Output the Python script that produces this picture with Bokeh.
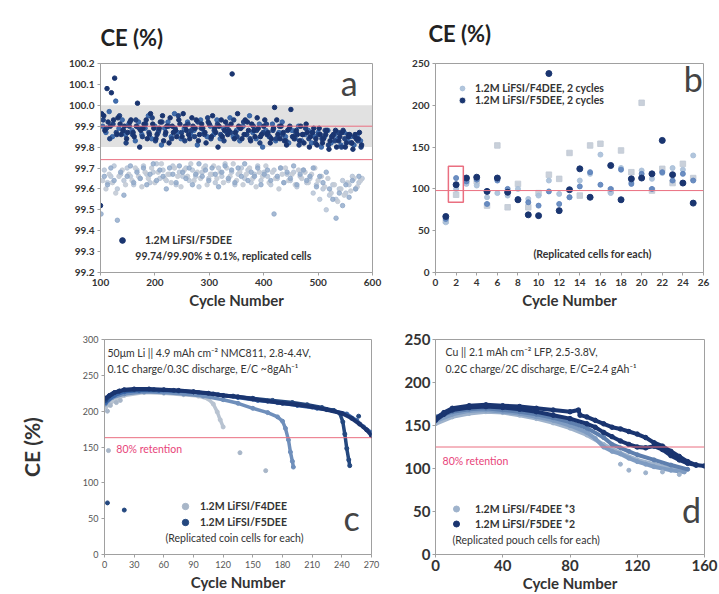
from bokeh.plotting import figure
from bokeh.layouts import column, row
from bokeh.models import (Range1d, Span, BoxAnnotation, Label, Legend, LegendItem,
                          FixedTicker, PrintfTickFormatter)
from bokeh.embed import file_html
from bokeh.resources import INLINE

FONT = "Lato"
NAN = float("nan")
DARK = "#1a3570"
MID = "#2f5ea3"
STEEL = "#8fa8c8"
LIGHT = "#c3cbd6"
RED = "#ea6f80"
RED_TXT = "#e8457a"
TXT = "#333333"

# ---------------- panel a : CE vs cycle (100-600) ----------------
a_xticks = [100, 200, 300, 400, 500, 600]
a_yticks = [99.2, 99.3, 99.4, 99.5, 99.6, 99.7, 99.8, 99.9, 100.0, 100.1, 100.2]
a_mean_lines = [99.74, 99.90]
a_band = [99.80, 100.00]

ce_a_dark1 = [99.52, 99.95, 100.08, 99.90, 99.93, 99.86, 99.91, 99.88, 99.84, 99.92, 99.87, 99.90, 99.80,
              99.89, 99.93, 99.86, 99.91, 99.84, 99.89, 99.95, 99.87, 99.82, 99.90, 99.88, 99.93, 99.85,
              99.90, 99.86, 99.94, 99.89, 99.83, 99.91, 99.87, 99.92, 99.85, 99.89, 99.80, 99.93, 99.88,
              99.86, 99.91, 99.84, 99.96, 99.89, 99.86, 99.92, 99.83, 99.88, 99.94, 99.85, 99.90, 99.86,
              99.82, 99.89, 99.93, 99.84, 99.87, 99.81, 99.90, 99.85, 99.88, 99.83, 99.86, 99.91, 99.80,
              99.87, 99.84, 99.89, 99.82, 99.86, 99.79, 99.85, 99.88, 99.83, 99.87, 99.80, 99.85, 99.82,
              99.86, 99.84, 99.81]
ce_a_dark2 = [99.96, 99.88, 99.92, 100.06, 100.13, 99.94, 99.86, 99.90, 99.87, 99.93, 99.85, 100.01, 99.88,
              99.91, 99.84, 99.96, 99.89, 99.86, 99.92, 99.83, 99.90, 99.94, 99.87, 99.85, 99.91, 99.96,
              99.88, 99.84, 99.90, 99.93, 99.86, 99.89, 99.82, 99.91, 99.95, 99.87, 99.90, 99.85, 99.92,
              99.88, 100.15, 99.87, 99.90, 99.84, 99.93, 99.88, 99.91, 99.85, 99.89, 99.86, 99.93, 99.87,
              99.84, 99.99, 99.86, 99.90, 99.83, 99.88, 99.98, 99.84, 99.86, 99.90, 99.82, 99.87, 99.85,
              99.89, 99.81, 99.86, 99.84, 99.88, 99.83, 99.86, 99.80, 99.85, 99.88, 99.82, 99.86, 99.79,
              99.84, 99.87]
ce_a_dark3 = [99.90, 99.87, 99.97, 99.85, 100.02, 99.89, 99.93, 99.86, 99.91, 99.88, 99.83, 99.92, 99.86,
              99.89, 99.95, 99.84, 99.90, 99.87, 99.81, 99.89, 99.92, 99.85, 99.96, 99.87, 99.84, 99.89,
              99.92, 99.86, 99.88, 99.81, 99.93, 99.87, 99.85, 99.90, 99.86, 99.93, 99.84, 99.89, 99.87,
              99.94, 99.85, 99.88, 99.83, 99.90, 99.86, 99.95, 99.87, 99.84, 99.91, 99.80, 99.88, 99.85,
              99.91, 99.83, 99.87, 99.92, 99.85, 99.82, 99.88, 99.84, 99.90, 99.83, 99.86, 99.88, 99.82,
              99.85, 99.87, 99.80, 99.85, 99.88, 99.82, 99.86, 99.84, 99.81, 99.87, 99.83, 99.85, 99.81,
              99.86, 99.83]
ce_a_dark4 = [99.93, 99.89, 99.84, 99.91, 99.87, 99.95, 99.88, 99.82, 99.90, 99.86, 99.93, 99.89, 99.85,
              99.91, 99.87, 99.94, 99.83, 99.88, 99.92, 99.86, 99.90, 99.84, 99.89, 99.95, 99.87, 99.83,
              99.91, 99.88, 99.85, 99.92, 99.89, 99.86, 99.94, 99.84, 99.88, 99.91, 99.86, 99.83, 99.90,
              99.87, 99.93, 99.85, 99.89, 99.92, 99.86, 99.84, 99.90, 99.88, 99.82, 99.87, 99.91, 99.85,
              99.88, 99.84, 99.90, 99.86, 99.83, 99.89, 99.85, 99.87, 99.81, 99.86, 99.89, 99.84, 99.87,
              99.82, 99.86, 99.84, 99.88, 99.81, 99.85, 99.83, 99.87, 99.80, 99.84, 99.86, 99.82, 99.85,
              99.83, 99.80]
ce_a_light1 = [99.48, 99.66, 99.62, 99.70, 99.64, 99.45, 99.68, 99.57, 99.66, 99.71, 99.63, 99.68, 99.65,
               99.70, 99.62, 99.67, 99.72, 99.64, 99.69, 99.66, 99.60, 99.70, 99.67, 99.63, 99.71, 99.68,
               99.65, 99.70, 99.62, 99.67, 99.72, 99.66, 99.69, 99.64, 99.70, 99.67, 99.61, 99.68, 99.71,
               99.65, 99.69, 99.63, 99.70, 99.66, 99.72, 99.64, 99.68, 99.66, 99.70, 99.62, 99.67, 99.69,
               99.64, 99.48, 99.66, 99.70, 99.63, 99.68, 99.65, 99.71, 99.62, 99.67, 99.69, 99.64, 99.66,
               99.70, 99.61, 99.66, 99.63, 99.68, 99.60, 99.55, 99.46, 99.58, 99.52, 99.62, 99.56, 99.64,
               99.60, 99.66]
ce_a_light2 = [99.64, 99.60, 99.67, 99.63, 99.58, 99.66, 99.69, 99.62, 99.67, 99.64, 99.70, 99.66, 99.61,
               99.68, 99.65, 99.70, 99.63, 99.68, 99.72, 99.65, 99.67, 99.63, 99.70, 99.66, 99.61, 99.69,
               99.66, 99.72, 99.64, 99.68, 99.65, 99.70, 99.62, 99.67, 99.71, 99.65, 99.68, 99.63, 99.70,
               99.66, 99.72, 99.64, 99.68, 99.62, 99.67, 99.70, 99.65, 99.61, 99.68, 99.66, 99.71, 99.63,
               99.68, 99.65, 99.60, 99.67, 99.70, 99.64, 99.67, 99.62, 99.69, 99.65, 99.68, 99.63, 99.67,
               99.70, 99.64, 99.66, 99.61, 99.65, 99.58, 99.62, 99.54, 99.60, 99.57, 99.63, 99.59, 99.65,
               99.61, 99.64]
ce_a_light3 = [99.69, 99.63, 99.66, 99.71, 99.60, 99.67, 99.64, 99.70, 99.66, 99.62, 99.69, 99.65, 99.71,
               99.67, 99.63, 99.68, 99.72, 99.65, 99.69, 99.64, 99.67, 99.71, 99.62, 99.68, 99.66, 99.70,
               99.64, 99.69, 99.66, 99.61, 99.68, 99.71, 99.65, 99.67, 99.63, 99.70, 99.66, 99.72, 99.64,
               99.68, 99.62, 99.67, 99.70, 99.65, 99.69, 99.63, 99.67, 99.71, 99.64, 99.68, 99.66, 99.62,
               99.69, 99.65, 99.70, 99.63, 99.67, 99.64, 99.68, 99.61, 99.66, 99.69, 99.63, 99.65, 99.58,
               99.62, 99.55, 99.60, 99.50, 99.57, 99.62, 99.55, 99.60, 99.64, 99.58, 99.62, 99.66, 99.60,
               99.63, 99.65]
cyc_a_dark1 = list(range(100, 100 + 6 * len(ce_a_dark1), 6))
cyc_a_dark2 = list(range(102, 102 + 6 * len(ce_a_dark2), 6))
cyc_a_dark3 = list(range(104, 104 + 6 * len(ce_a_dark3), 6))
cyc_a_dark4 = list(range(105, 105 + 6 * len(ce_a_dark4), 6))
cyc_a_light1 = list(range(101, 101 + 6 * len(ce_a_light1), 6))
cyc_a_light2 = list(range(104, 104 + 6 * len(ce_a_light2), 6))
cyc_a_light3 = list(range(107, 107 + 6 * len(ce_a_light3), 6))

# ---------------- panel b : first 25 cycles ----------------
b_xticks = list(range(0, 27, 2))
b_yticks = [0, 50, 100, 150, 200, 250]
b_ref_line = 98
b_box = [1.25, 2.7, 84, 127]  # left, right, bottom, top of highlighted cycle
cyc_b = list(range(1, 26))
ce_b_f5_dark = [67, 105, 113, 114, 97, 113, 96, 87, 69, 68, 238, 74, 99, 124, 90, NAN, 128, 87, 112, 113,
                118, 158, 117, 107, 83]
ce_b_f5_mid = [64, 113, 109, 111, 82, 110, 100, 88, 84, 80, 97, 82, 90, 103, 120, 105, 100, 123, 106, 118,
               100, 120, 110, 118, 110]
ce_b_f4_gray = [62, 93, 110, 109, 80, 152, 78, 106, 78, 95, 117, 112, 143, 92, 152, 154, 98, 146, 120, 203,
                98, 124, 107, 130, 113]
ce_b_f4_light = [60, 100, 106, 104, 90, 95, 92, 100, 88, 92, 110, 94, 90, 110, 118, 141, 95, 125, 108, 122,
                 112, 119, 125, 123, 140]

# ---------------- panel c : NMC811 coin cells ----------------
c_xticks = list(range(0, 271, 30))
c_yticks = [0, 50, 100, 150, 200, 250, 300]
c_ret_line = 163
c_f5_1_cyc = [1, 5, 10, 15, 20, 30, 45, 60, 75, 90, 105, 120, 135, 150, 165, 180, 195, 210, 225, 240, 250,
              258, 265, 270]
c_f5_1_ce = [218, 222, 226, 228, 230, 231, 231, 230, 229, 227, 225, 222, 220, 217, 214, 211, 209, 206, 202,
             197, 190, 182, 174, 166]
c_f5_2_cyc = [1, 8, 15, 30, 50, 70, 90, 110, 130, 150, 170, 190, 205, 220, 232, 238, 241, 243, 245, 247, 248]
c_f5_2_ce = [215, 224, 228, 230, 230, 229, 227, 224, 221, 218, 215, 212, 209, 205, 201, 197, 185, 168, 148,
             132, 124]
c_f5_3_cyc = [1, 10, 20, 35, 55, 75, 95, 115, 135, 155, 175, 195, 215, 230, 245, 255, 262, 270]
c_f5_3_ce = [212, 222, 227, 229, 229, 228, 226, 223, 219, 215, 212, 208, 204, 201, 196, 187, 178, 170]
c_f4_1_cyc = [1, 8, 20, 40, 60, 80, 100, 120, 135, 150, 165, 175, 180, 183, 186, 188, 190, 191]
c_f4_1_ce = [210, 219, 224, 227, 226, 224, 221, 216, 211, 204, 198, 192, 186, 176, 160, 143, 130, 122]
c_f4_2_cyc = [1, 10, 20, 40, 60, 80, 95, 105, 110, 114, 117, 120]
c_f4_2_ce = [205, 215, 222, 226, 225, 223, 221, 217, 210, 199, 188, 178]
c_f4_pts_cyc = [3, 4, 6, 12, 16, 137, 163]
c_f4_pts_ce = [200, 145, 208, 212, 215, 142, 117]
c_f5_pts_cyc = [3, 20, 257]
c_f5_pts_ce = [72, 62, 193]

# ---------------- panel d : LFP pouch cells ----------------
d_xticks = [0, 40, 80, 120, 160]
d_yticks = [0, 50, 100, 150, 200, 250]
d_ret_line = 125
d_f5_1_cyc = [0, 5, 10, 20, 30, 40, 50, 60, 70, 80, 85, 86, 90, 95, 100, 105, 110, 115, 120, 125, 130, 135,
              140, 145, 150, 155, 160]
d_f5_1_ce = [158, 165, 170, 173, 174, 173, 172, 170, 168, 166, 168, 162, 160, 156, 152, 148, 146, 143, 140,
             136, 130, 126, 120, 114, 108, 104, 103]
d_f5_2_cyc = [0, 5, 10, 20, 30, 40, 50, 60, 70, 80, 90, 95, 100, 105, 110, 115, 120, 125, 130, 135, 140, 145,
              150, 155]
d_f5_2_ce = [156, 163, 168, 171, 172, 171, 169, 166, 162, 158, 152, 148, 142, 137, 132, 128, 125, 124, 126,
             122, 115, 110, 106, 104]
d_f4_1_cyc = [0, 10, 20, 30, 40, 50, 60, 70, 80, 90, 95, 100, 105, 110, 115, 120, 125, 130, 140, 148]
d_f4_1_ce = [155, 163, 167, 168, 166, 164, 160, 156, 150, 142, 135, 125, 120, 117, 112, 108, 105, 102, 98, 96]
d_f4_2_cyc = [0, 10, 20, 30, 40, 50, 60, 70, 80, 90, 100, 105, 110, 115, 120, 130, 140, 150]
d_f4_2_ce = [160, 166, 169, 170, 168, 166, 163, 159, 154, 147, 136, 128, 124, 120, 116, 110, 104, 99]
d_f4_3_cyc = [0, 10, 20, 30, 40, 50, 60, 70, 80, 90, 100, 110, 120, 130, 140, 147]
d_f4_3_ce = [152, 160, 164, 166, 165, 162, 158, 153, 147, 139, 128, 118, 110, 105, 100, 97]
d_f4_pts_cyc = [110, 115, 125, 135, 145]
d_f4_pts_ce = [105, 98, 95, 96, 93]


def make_fig(w, h, xr, yr, bl, br, bt, bb):
    p = figure(width=w, height=h, x_range=Range1d(*xr), y_range=Range1d(*yr),
               output_backend="svg", toolbar_location=None,
               min_border_left=bl, min_border_right=br, min_border_top=bt, min_border_bottom=bb)
    p.xgrid.visible = False
    p.ygrid.visible = False
    p.outline_line_color = "#a0a0a0"
    p.outline_line_width = 1
    p.background_fill_color = "white"
    p.border_fill_color = "white"
    for ax in (p.xaxis[0], p.yaxis[0]):
        ax.axis_line_color = "#a0a0a0"
        ax.major_tick_line_color = "#a0a0a0"
        ax.minor_tick_line_color = None
        ax.major_tick_in = 0
        ax.major_tick_out = 3
        ax.major_label_standoff = 3
        ax.major_label_text_font = FONT
        ax.major_label_text_color = TXT
        ax.major_label_text_font_style = "bold"
        ax.major_label_text_font_size = "10px"
        ax.axis_label_text_font = FONT
        ax.axis_label_text_font_style = "bold"
        ax.axis_label_text_color = TXT
        ax.axis_label_text_font_size = "15px"
        ax.axis_label_standoff = 2
    p.xaxis.axis_label = "Cycle Number"
    return p


def title(p, offset, standoff):
    p.title.text = "CE (%)"
    p.title.text_font = FONT
    p.title.text_font_size = "22px"
    p.title.text_font_style = "bold"
    p.title.text_color = "#222222"
    p.title.align = "left"
    p.title.offset = offset
    p.title.standoff = standoff


def txt(p, x, y, s, size="10.5px", color=TXT, style="normal", align="left", font=FONT):
    p.add_layout(Label(x=x, y=y, text=s, text_font=font, text_font_size=size, text_color=color,
                       text_font_style=style, text_align=align, text_baseline="middle"))


def legend(p, items, loc, glyph_w, standoff, size="10.5px", row_h=14):
    lg = Legend(items=[LegendItem(label=t, renderers=r) for t, r in items], location=loc,
                glyph_width=glyph_w, glyph_height=row_h, label_height=row_h, label_standoff=standoff,
                spacing=0, padding=0, margin=0, border_line_color=None, background_fill_alpha=0,
                label_text_font=FONT, label_text_font_size=size, label_text_color=TXT,
                label_text_font_style="bold")
    p.add_layout(lg)


# ===== panel a =====
pa = make_fig(390, 313, (100, 600), (99.2, 100.2), 100, 18, 55, 40)
title(pa, 0, 25)
pa.xaxis.ticker = FixedTicker(ticks=a_xticks)
pa.yaxis.ticker = FixedTicker(ticks=a_yticks)
pa.yaxis.formatter = PrintfTickFormatter(format="%.1f")
pa.add_layout(BoxAnnotation(bottom=a_band[0], top=a_band[1], fill_color="#d4d4d4", fill_alpha=0.7,
                            line_color=None, level="underlay"))
ra_l3 = pa.scatter(cyc_a_light3, ce_a_light3, size=4.5, color="#b4c2d4", alpha=0.8)
ra_l2 = pa.scatter(cyc_a_light2, ce_a_light2, size=4.5, color=LIGHT, alpha=0.9)
ra_l1 = pa.scatter(cyc_a_light1, ce_a_light1, size=4.5, color=STEEL, alpha=0.8)
ra_d3 = pa.scatter(cyc_a_dark3, ce_a_dark3, size=4.5, color=MID, alpha=0.9)
ra_d4 = pa.scatter(cyc_a_dark4, ce_a_dark4, size=4.5, color="#22427f")
ra_d1 = pa.scatter(cyc_a_dark1, ce_a_dark1, size=4.5, color=DARK)
ra_d2 = pa.scatter(cyc_a_dark2, ce_a_dark2, size=4.5, color=DARK)
for v in a_mean_lines:
    pa.add_layout(Span(location=v, dimension="width", line_color=RED, line_width=1))
legend(pa, [("1.2M LiFSI/F5DEE", [ra_l2, ra_d1])], (12, 25), 20, 13)
txt(pa, 164, 99.278, "99.74/99.90%  \u00b1 0.1%, replicated cells", style="bold")
txt(pa, 557, 100.11, "a", size="34px", color="#444444", align="center")

# ===== panel b =====
pb = make_fig(329, 313, (0, 26), (0, 250), 45, 16, 63, 41)
title(pb, -7, 33)
pb.xaxis.ticker = FixedTicker(ticks=b_xticks)
pb.yaxis.ticker = FixedTicker(ticks=b_yticks)
pb.add_layout(Span(location=b_ref_line, dimension="width", line_color=RED, line_width=1))
rb_g = pb.scatter(cyc_b, ce_b_f4_gray, size=5.5, color=LIGHT, marker="square", alpha=0.9)
rb_l = pb.scatter(cyc_b, ce_b_f4_light, size=5, color="#a9bfd8", alpha=0.9)
rb_m = pb.scatter(cyc_b, ce_b_f5_mid, size=5, color="#5d83bb", alpha=0.9)
rb_d = pb.scatter(cyc_b, ce_b_f5_dark, size=6, color=DARK)
pb.quad(left=[b_box[0]], right=[b_box[1]], bottom=[b_box[2]], top=[b_box[3]], fill_color=None,
        line_color=RED, line_width=1.5)
legend(pb, [("1.2M LiFSI/F4DEE, 2 cycles", [rb_l]), ("1.2M LiFSI/F5DEE, 2 cycles", [rb_g, rb_d])],
       (20, 166), 14, 6, row_h=12)
txt(pb, 9.5, 22.7, "(Replicated cells for each)", style="bold")
txt(pb, 25.0, 232, "b", size="34px", color="#444444", align="center")

# ===== panel c =====
pc = make_fig(390, 281, (0, 270), (0, 300), 104, 19, 25, 39)
pc.xaxis.ticker = FixedTicker(ticks=c_xticks)
pc.yaxis.ticker = FixedTicker(ticks=c_yticks)
for ax in (pc.xaxis[0], pc.yaxis[0]):
    ax.major_label_text_font_style = "normal"
    ax.major_label_text_font_size = "9px"
    ax.major_label_text_color = "#555555"
pc.yaxis.axis_label = "CE (%)"
pc.yaxis.axis_label_text_font_size = "21px"
pc.yaxis.axis_label_standoff = 36
pc.add_layout(Span(location=c_ret_line, dimension="width", line_color=RED, line_width=1))
for cx, cy, col, lw in [(c_f4_2_cyc, c_f4_2_ce, "#b8c3d1", 3.5), (c_f4_1_cyc, c_f4_1_ce, "#6f8fbb", 3.5),
                        (c_f5_3_cyc, c_f5_3_ce, "#3a66a8", 3.5), (c_f5_2_cyc, c_f5_2_ce, "#24487f", 3.5),
                        (c_f5_1_cyc, c_f5_1_ce, DARK, 4)]:
    pc.line(cx, cy, line_color=col, line_width=lw)
    pc.scatter(cx, cy, size=4, color=col)
rc_f4 = pc.scatter(c_f4_pts_cyc, c_f4_pts_ce, size=4, color="#a8b6c8")
rc_f5 = pc.scatter(c_f5_pts_cyc, c_f5_pts_ce, size=4, color="#24487f")
legend(pc, [("1.2M LiFSI/F4DEE", [rc_f4]), ("1.2M LiFSI/F5DEE", [rc_f5])], (71, 24), 20, 5, row_h=16)
txt(pc, 3, 280.6, "50\u03bcm Li || 4.9 mAh cm\u207b\u00b2 NMC811, 2.8-4.4V,")
txt(pc, 3, 258.5, "0.1C charge/0.3C discharge, E/C ~8gAh\u207b\u00b9")
txt(pc, 12, 147.9, "80% retention", color=RED_TXT)
txt(pc, 61.7, 23.5, "(Replicated coin cells for each)")
txt(pc, 250, 51, "c", size="34px", color="#444444", align="center")

# ===== panel d =====
pd = make_fig(329, 281, (0, 160), (0, 250), 45, 15, 26, 36)
pd.xaxis.ticker = FixedTicker(ticks=d_xticks)
pd.yaxis.ticker = FixedTicker(ticks=d_yticks)
for ax in (pd.xaxis[0], pd.yaxis[0]):
    ax.major_label_text_font_size = "15px"
    ax.major_label_standoff = 2
pd.xaxis.axis_label_standoff = 0
pd.add_layout(Span(location=d_ret_line, dimension="width", line_color=RED, line_width=1))
for cx, cy, col in [(d_f4_3_cyc, d_f4_3_ce, "#9fb3cc"), (d_f4_1_cyc, d_f4_1_ce, "#7f9cc2"),
                    (d_f4_2_cyc, d_f4_2_ce, "#5e7fae")]:
    pd.line(cx, cy, line_color=col, line_width=4)
    pd.scatter(cx, cy, size=4, color=col)
rd_f4 = pd.scatter(d_f4_pts_cyc, d_f4_pts_ce, size=4, color="#9fb3cc")
rd_f5 = None
for cx, cy in [(d_f5_2_cyc, d_f5_2_ce), (d_f5_1_cyc, d_f5_1_ce)]:
    pd.line(cx, cy, line_color=DARK, line_width=4)
    rd_f5 = pd.scatter(cx, cy, size=4.5, color=DARK)
legend(pd, [("1.2M LiFSI/F4DEE *3", [rd_f4]), ("1.2M LiFSI/F5DEE *2", [rd_f5])], (13, 23), 16, 11,
       row_h=15)
txt(pd, 5.95, 235.2, "Cu || 2.1 mAh cm\u207b\u00b2 LFP, 2.5-3.8V,")
txt(pd, 5.95, 215.8, "0.2C charge/2C discharge, E/C=2.4 gAh\u207b\u00b9")
txt(pd, 4.2, 108.4, "80% retention", color=RED_TXT)
txt(pd, 10.1, 17.1, "(Replicated pouch cells for each)")
txt(pd, 152.3, 52.5, "d", size="34px", color="#444444", align="center")

layout = column(row(pa, pb), row(pc, pd))
open("out.html", "w").write(file_html(layout, INLINE))
